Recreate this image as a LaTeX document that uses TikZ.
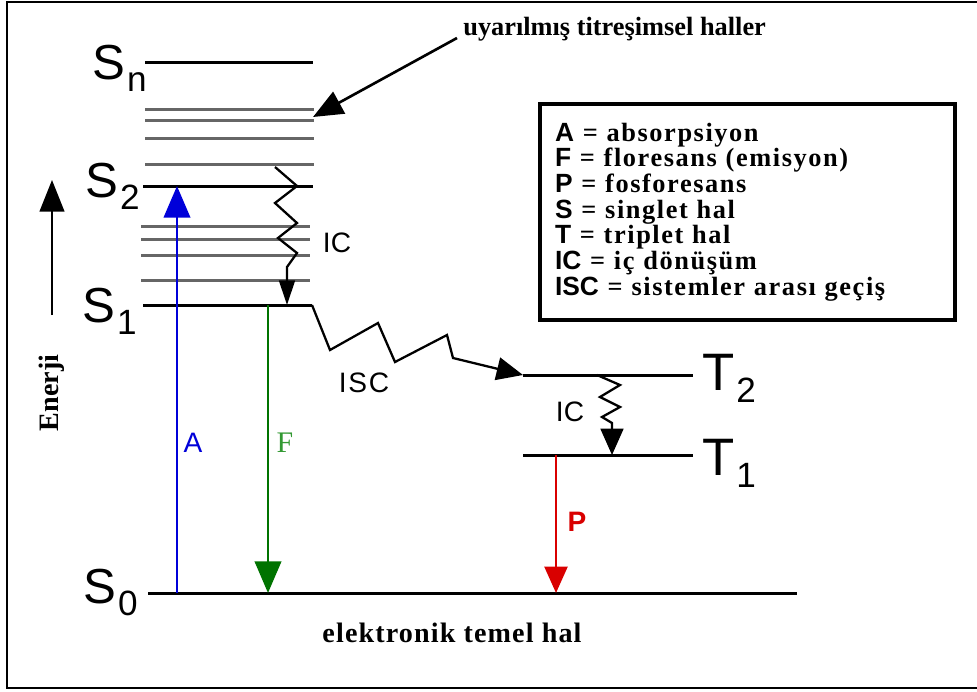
\documentclass[tikz,border=0pt]{standalone}
\usepackage{fontspec}
\setmainfont{Liberation Serif}
\setsansfont{Liberation Sans}
\usetikzlibrary{arrows.meta,positioning,calc}

\newcommand{\statename}[2]{#1\hspace{1pt}\raisebox{-7pt}{\fontsize{20}{20}\selectfont #2}}
\newcommand{\legitem}[2]{\textsf{#1} = #2}

\begin{document}
\begin{tikzpicture}[x=0.02cm, y=-0.02cm,
    level/.style={line width=1.7pt},
    vib/.style={line width=1.7pt, black!60},
    slabel/.style={font=\fontsize{28}{28}\selectfont\sffamily, anchor=base east, inner sep=0pt},
    tlabel/.style={font=\fontsize{30}{30}\selectfont\sffamily, anchor=base west, inner sep=0pt},
    wiggle/.style={line width=1.3pt, line join=miter},
    trans/.style={line width=1.6pt},
    bigtip/.style={-{Triangle[length=18pt,width=15pt]}},
    midtip/.style={-{Triangle[length=15pt,width=13pt]}},
    smalltip/.style={-{Triangle[length=14pt,width=9pt]}},
    tag/.style={font=\fontsize{16}{16}\selectfont\sffamily, inner sep=0pt},
    note/.style={font=\fontsize{15}{15}\selectfont\bfseries, inner sep=0pt},
  ]
  \useasboundingbox (0,0) rectangle (977,691);
  %% outer frame
  \draw[line width=1.2pt] (977,2) -- (7,2) -- (7,688) -- (977,688);

  %% level end points
  \coordinate (SnL) at (145,62);  \coordinate (SnR) at (313,62);
  \coordinate (S2L) at (143,186); \coordinate (S2R) at (313,186);
  \coordinate (S1L) at (143,305); \coordinate (S1R) at (312,305);
  \coordinate (S0L) at (148,593); \coordinate (S0R) at (797,593);
  \coordinate (T2L) at (523,375); \coordinate (T2R) at (693,375);
  \coordinate (T1L) at (523,455); \coordinate (T1R) at (693,455);

  %% vibrational levels
  \foreach \y in {109,120,138,164}
    \draw[vib] (145,\y) -- (314,\y);
  \foreach \y in {226,239,255,280}
    \draw[vib] (141,\y) -- (310,\y);

  %% electronic levels
  \draw[level] (SnL) -- (SnR);
  \draw[level] (S2L) -- (S2R);
  \draw[level] (S1L) -- (S1R);
  \draw[level] (S0L) -- (S0R);
  \draw[level] (T2L) -- (T2R);
  \draw[level] (T1L) -- (T1R);

  %% level names
  \node[slabel] (Sn) at (147,79) {\statename{S}{n}};
  \node[slabel] (S2) at (140,197) {\statename{S}{2}};
  \node[slabel] (S1) at (137,322) {\statename{S}{1}};
  \node[slabel] (S0) at (138,603) {\statename{S}{0}};
  \node[tlabel] (T2) at (702,390) {\statename{T}{2}};
  \node[tlabel] (T1) at (702,475) {\statename{T}{1}};

  %% absorption, fluorescence, phosphorescence
  \coordinate (A0) at (177,593); \coordinate (A2) at (177,186);
  \coordinate (F1) at (268,305); \coordinate (F0) at (268,593);
  \coordinate (P1) at (556,455); \coordinate (P0) at (556,593);
  \draw[trans, blue!85!black, bigtip] (A0) -- (A2);
  \draw[trans, green!45!black, bigtip] (F1) -- (F0);
  \draw[trans, red!85!black, midtip] (P1) -- (P0);
  \node[tag, blue!85!black] (Alabel) at (193,443) {A};
  \node[font=\fontsize{17}{17}\selectfont, text=green!50!black!80, inner sep=0pt] (Flabel) at (285,443) {F};
  \node[tag, font=\fontsize{16}{16}\selectfont\sffamily\bfseries, red!85!black] (Plabel) at (577,522) {P};

  %% internal conversion S2 -> S1
  \coordinate (IC1a) at (275,167); \coordinate (IC1b) at (287,305);
  \draw[wiggle, smalltip] (IC1a) -- (297,186) -- (275,203) -- (297,223)
    -- (278,238) -- (297,253) -- (287,267) -- (IC1b);
  \node[tag] (IC1) at (337,243) {IC};

  %% intersystem crossing S1 -> T2
  \draw[wiggle, midtip] (S1R) -- (330,350) -- (378,323) -- (395,362)
    -- (447,335) -- (453,358) -- (T2L);
  \node[tag] (ISC) at (364,383) {I\hspace{1pt}S\hspace{1pt}C};

  %% internal conversion T2 -> T1
  \coordinate (IC2a) at (597,375); \coordinate (IC2b) at (612,455);
  \draw[wiggle, midtip] (IC2a) -- (620,385) -- (600,397) -- (620,407)
    -- (602,417) -- (612,423) -- (IC2b);
  \node[tag] (IC2) at (570,412) {IC};

  %% energy axis
  \coordinate (Ebot) at (52,315); \coordinate (Etop) at (52,180);
  \draw[line width=1.3pt, -{Triangle[length=18pt,width=14pt]}] (Ebot) -- (Etop);
  \node[note, font=\fontsize{16}{16}\selectfont\bfseries, rotate=90] (enerji) at (52,393) {Enerji};

  %% vibrational states note
  \node[note, anchor=west] (vibnote) at (463,29) {uyarılmış titreşimsel haller};
  \coordinate (vibtail) at (457,38); \coordinate (vibtip) at (313,117);
  \draw[line width=1.5pt, -{Triangle[length=17pt,width=14pt]}] (vibtail) -- (vibtip);

  %% ground state note
  \node[note, font=\fontsize{16}{16}\selectfont\bfseries\addfontfeature{LetterSpace=4}] (ground) at (452,633) {elektronik temel hal};

  %% legend
  \node[draw, line width=2.3pt, anchor=north west, minimum width=8.3cm,
        minimum height=4.32cm, text width=7.7cm, inner xsep=0.3cm, align=left,
        font=\fontsize{15}{14.6}\selectfont\bfseries\addfontfeature{LetterSpace=6}] (legend) at (538,102)
    {\lineskiplimit=-20pt\relax
     \legitem{A}{absorpsiyon}\\
     \legitem{F}{floresans (emisyon)}\\
     \legitem{P}{fosforesans}\\
     \legitem{S}{singlet hal}\\
     \legitem{T}{triplet hal}\\
     \legitem{IC}{iç dönüşüm}\\
     \legitem{ISC}{sistemler arası geçiş}};
\end{tikzpicture}
\end{document}
